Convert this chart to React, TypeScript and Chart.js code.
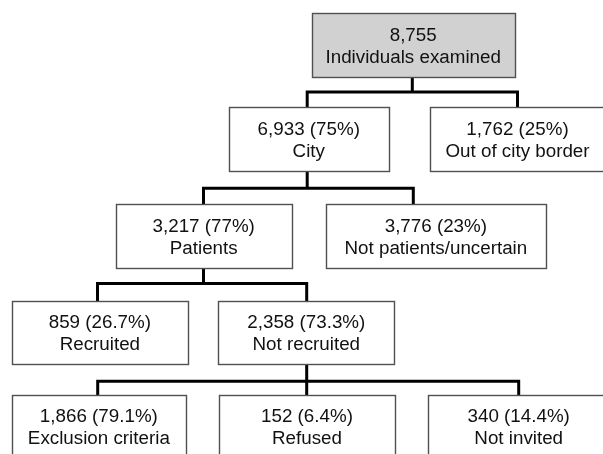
import React, { useEffect, useRef } from "react";
import { Chart, registerables } from "chart.js";

Chart.register(...registerables);

// ---- data ----
const nodeCounts = ["8,755", "6,933", "1,762", "3,217", "3,776", "859", "2,358", "1,866", "152", "340"];
const nodePercents = ["", "75%", "25%", "77%", "23%", "26.7%", "73.3%", "79.1%", "6.4%", "14.4%"];
const nodeLabels = [
  "Individuals examined",
  "City",
  "Out of city border",
  "Patients",
  "Not patients/uncertain",
  "Recruited",
  "Not recruited",
  "Exclusion criteria",
  "Refused",
  "Not invited",
];
const nodeParents = [-1, 0, 0, 1, 1, 3, 3, 6, 6, 6];

// ---- layout (data-space units of the hidden linear scales) ----
const boxLeft = [311.7, 229, 430, 115.7, 325.7, 11.7, 218.3, 11.7, 219, 427.7];
const boxRight = [514.7, 388.5, 606, 291.7, 546, 188, 394.3, 186, 395, 612];
const rowTop = [13.3, 107.3, 204.3, 300.7, 394.7];
const rowBottom = [76.7, 171, 268.3, 364.2, 458];
const nodeRow = [0, 1, 1, 2, 2, 3, 3, 4, 4, 4];
const anchorX = [412.3, 307.2, 517.5, 203.5, 413.3, 97.5, 306.7, 97.7, 306.7, 518.7];
const busY = [92, 188.3, 283.5, 381.3];

const flowPlugin = {
  id: "flow",
  afterDatasetsDraw(chart: any) {
    const { ctx, scales } = chart;
    const X = (v: number) => scales.x.getPixelForValue(v);
    const Y = (v: number) => scales.y.getPixelForValue(v);
    ctx.save();
    // connectors
    ctx.strokeStyle = "#000";
    ctx.lineWidth = 3;
    ctx.lineCap = "square";
    ctx.lineJoin = "miter";
    nodeCounts.forEach((_, p) => {
      const kids = nodeParents.map((q, i) => (q === p ? i : -1)).filter((i) => i >= 0);
      if (!kids.length) return;
      const r = nodeRow[p];
      const by = Y(busY[r]);
      ctx.beginPath();
      ctx.moveTo(X(anchorX[p]), Y(rowBottom[r]));
      ctx.lineTo(X(anchorX[p]), by);
      const xs = kids.map((k) => anchorX[k]).concat([anchorX[p]]);
      ctx.moveTo(X(Math.min(...xs)), by);
      ctx.lineTo(X(Math.max(...xs)), by);
      kids.forEach((k) => {
        ctx.moveTo(X(anchorX[k]), by);
        ctx.lineTo(X(anchorX[k]), Y(rowTop[nodeRow[k]]));
      });
      ctx.stroke();
    });
    // boxes
    nodeCounts.forEach((count, i) => {
      const r = nodeRow[i];
      const x1 = Math.round(X(boxLeft[i])) + 0.5;
      const x2 = Math.round(X(boxRight[i])) + 0.5;
      const y1 = Math.round(Y(rowTop[r])) + 0.5;
      const y2 = Math.round(Y(rowBottom[r])) + 0.5;
      ctx.fillStyle = i === 0 ? "#d1d1d1" : "#ffffff";
      ctx.fillRect(x1, y1, x2 - x1, y2 - y1);
      ctx.strokeStyle = "#505050";
      ctx.lineWidth = 1.4;
      ctx.strokeRect(x1, y1, x2 - x1, y2 - y1);
      const cx = (X(boxLeft[i]) + X(boxRight[i])) / 2;
      const tx = i === 2 || i === 9 ? (X(boxLeft[i]) + X(2 * anchorX[i] - boxLeft[i])) / 2 : cx;
      ctx.fillStyle = "#111";
      ctx.font = "18.8px 'Liberation Sans', Arial, sans-serif";
      ctx.textAlign = "center";
      ctx.textBaseline = "middle";
      const line1 = nodePercents[i] ? `${count} (${nodePercents[i]})` : count;
      ctx.fillText(line1, tx, Y(rowTop[r]) + 22.5);
      ctx.fillText(nodeLabels[i], tx, Y(rowTop[r]) + 44.3);
    });
    ctx.restore();
  },
};

export default function App() {
  const ref = useRef<HTMLCanvasElement>(null);
  useEffect(() => {
    if (!ref.current) return;
    const chart = new Chart(ref.current, {
      type: "scatter",
      data: {
        datasets: [
          {
            data: nodeCounts.map((_, i) => ({
              x: (boxLeft[i] + boxRight[i]) / 2,
              y: (rowTop[nodeRow[i]] + rowBottom[nodeRow[i]]) / 2,
            })),
            pointRadius: 0,
          },
        ],
      },
      options: {
        responsive: false,
        animation: false,
        layout: { padding: 0 },
        scales: {
          x: { type: "linear", min: 0, max: 603, display: false },
          y: { type: "linear", min: 0, max: 454, reverse: true, display: false },
        },
        plugins: { legend: { display: false }, tooltip: { enabled: false } },
      },
      plugins: [flowPlugin],
    });
    return () => chart.destroy();
  }, []);
  return (
    <div style={{ position: "fixed", left: 0, top: 0, width: 603, height: 454, background: "#fff" }}>
      <canvas ref={ref} width={603} height={454} />
    </div>
  );
}
